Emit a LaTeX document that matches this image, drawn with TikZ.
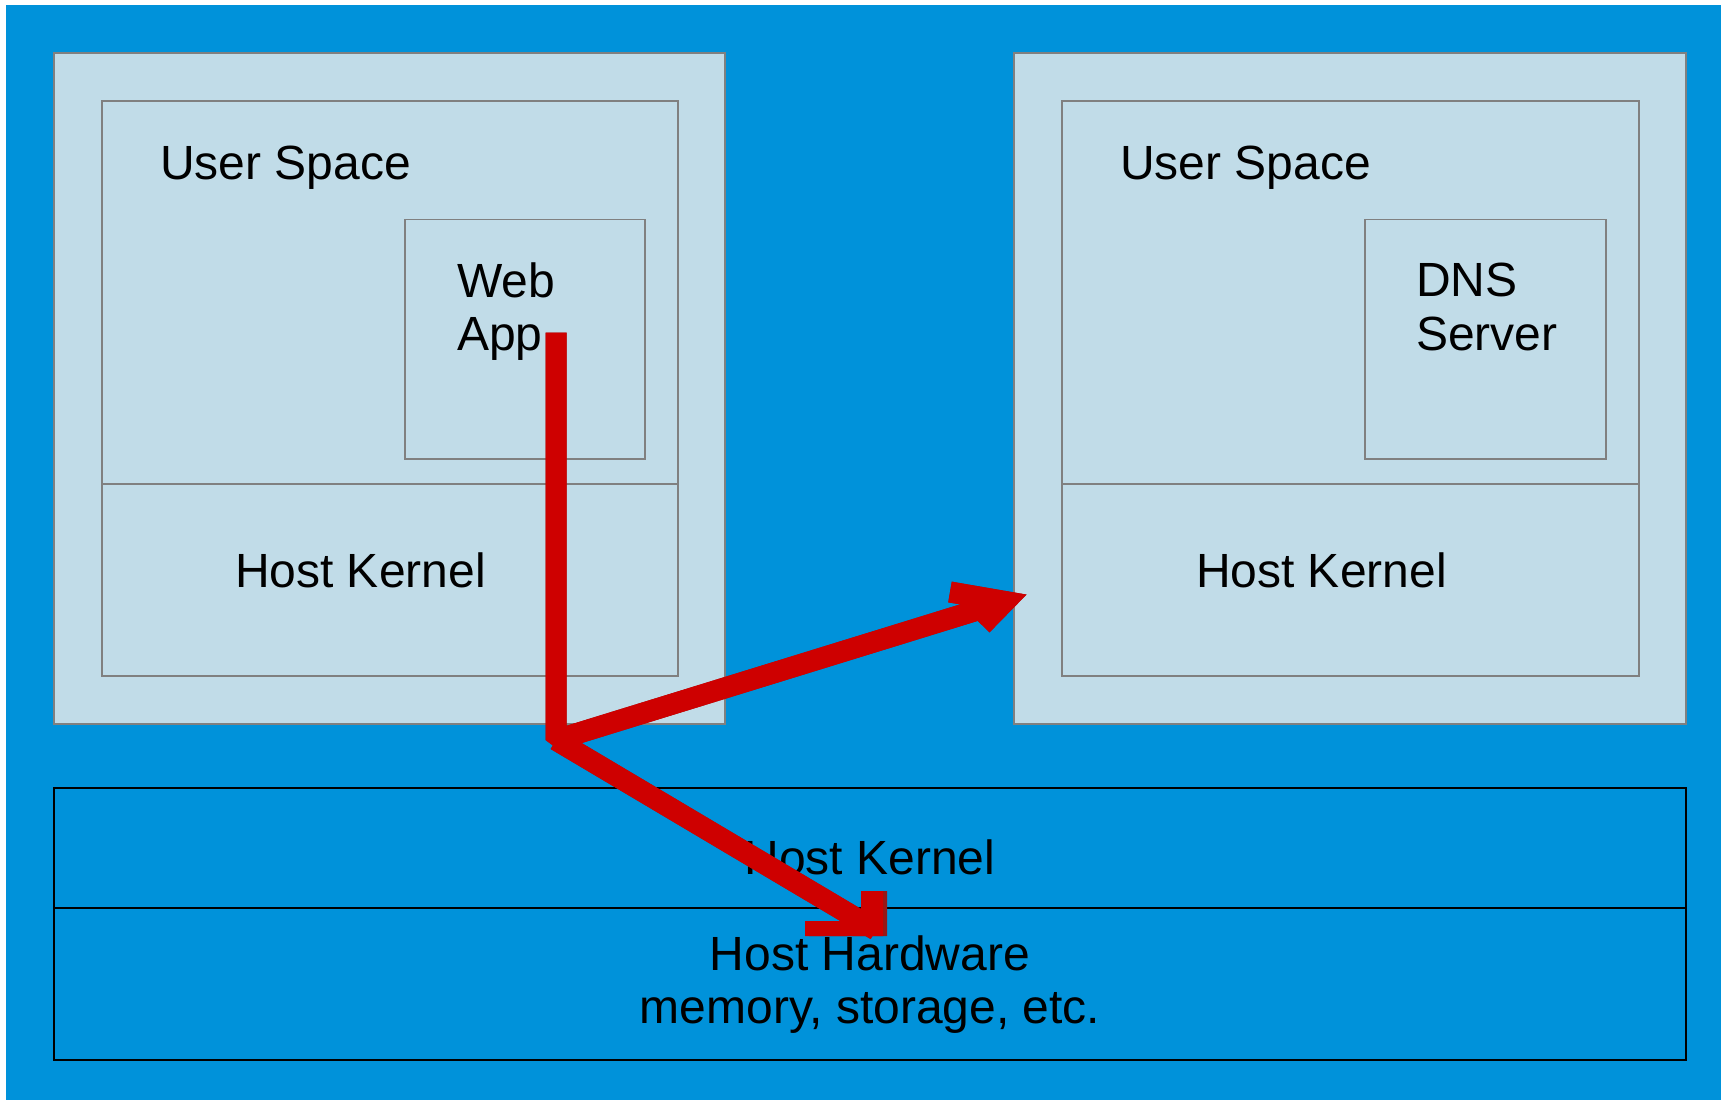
\documentclass[tikz,border=0pt]{standalone}
\usepackage{fontspec}
\setmainfont{Liberation Sans}
\definecolor{bgblue}{RGB}{0,146,218}
\definecolor{lightbox}{RGB}{193,220,232}
\definecolor{boxgrey}{RGB}{128,128,128}
\definecolor{arrowred}{RGB}{206,0,0}
\definecolor{arrowdark}{RGB}{150,24,24}
\begin{document}
\begin{tikzpicture}[x=1pt,y=-1pt,
  box/.style={draw=boxgrey, line width=1.2pt, fill=lightbox, inner sep=0pt, outer sep=0pt, anchor=north west},
  hbox/.style={draw=black, line width=1.2pt, inner sep=0pt, outer sep=0pt, anchor=north west},
  lbl/.style={inner sep=0pt, outer sep=0pt, font=\fontsize{48}{53.5}\selectfont, text=black},
  shaft/.style={line width=21pt, line join=bevel, line cap=butt},
  headline/.style={line width=21pt, line join=miter, miter limit=20, line cap=butt},
]
\useasboundingbox (0,0) rectangle (1721,1100);
\fill[white] (0,0) rectangle (1721,1100);
\fill[bgblue] (6,5) rectangle (1721,1100);

% left container
\node[box, minimum width=671pt, minimum height=671pt] (lout) at (54,53) {};
\node[box, minimum width=576pt, minimum height=383pt] (lus) at (102,101) {};
\node[box, minimum width=576pt, minimum height=192pt] (lhk) at (102,484) {};
\node[box, minimum width=240pt, minimum height=239.5pt] (web) at (405,219.5) {};

% right container
\node[box, minimum width=672pt, minimum height=671pt] (rout) at (1014,53) {};
\node[box, minimum width=577pt, minimum height=383pt] (rus) at (1062,101) {};
\node[box, minimum width=577pt, minimum height=192pt] (rhk) at (1062,484) {};
\node[box, minimum width=241pt, minimum height=239.5pt] (dns) at (1365,219.5) {};

% host boxes
\node[hbox, minimum width=1632pt, minimum height=120pt] (bhk) at (54,788) {};
\node[hbox, minimum width=1632pt, minimum height=152pt] (bhw) at (54,908) {};

% labels
\node[lbl, anchor=base west] (tlus) at (160,179.3) {User Space};
\node[lbl, anchor=base west] (trus) at (1120,179.3) {User Space};
\node[lbl, anchor=base west] (tweb) at (457,297.3) {\begin{tabular}[t]{@{}l@{}}Web\\App\end{tabular}};
\node[lbl, anchor=base west] (tdns) at (1416,296.7) {\begin{tabular}[t]{@{}l@{}}DNS\\Server\end{tabular}};
\node[lbl, anchor=base west] (tlhk) at (235,587) {Host Kernel};
\node[lbl, anchor=base west] (trhk) at (1196,587) {Host Kernel};
\node[lbl, anchor=base] (tbhk) at (870,874) {Host Kernel};
\node[lbl, anchor=base] (tbhw) at (870,970) {\begin{tabular}[t]{@{}c@{}}Host Hardware\\memory, storage, etc.\end{tabular}};

% arrow coordinates
\coordinate (start) at (556,332.7);
\coordinate (elbow) at (556,740);
\coordinate (tipA) at (1005,601.5);
\coordinate (barbA1) at (950,592);
\coordinate (barbA2) at (982,625);
\coordinate (tipB) at (876,930);

% shadow then arrow
\foreach \dx/\col in {4/arrowdark,0/arrowred}{
  \begin{scope}[shift={(\dx,0)}]
    \draw[shaft, draw=\col] (start) -- (elbow) -- (tipA);
    \draw[shaft, draw=\col] (elbow) -- (tipB);
    \draw[headline, draw=\col] (barbA1) -- (tipA) -- (barbA2);
    \fill[\col] (805,921) -- (861,921) -- (861,891) -- (883,891) -- (883,936) -- (805,936) -- cycle;
  \end{scope}
}
\end{tikzpicture}
\end{document}
